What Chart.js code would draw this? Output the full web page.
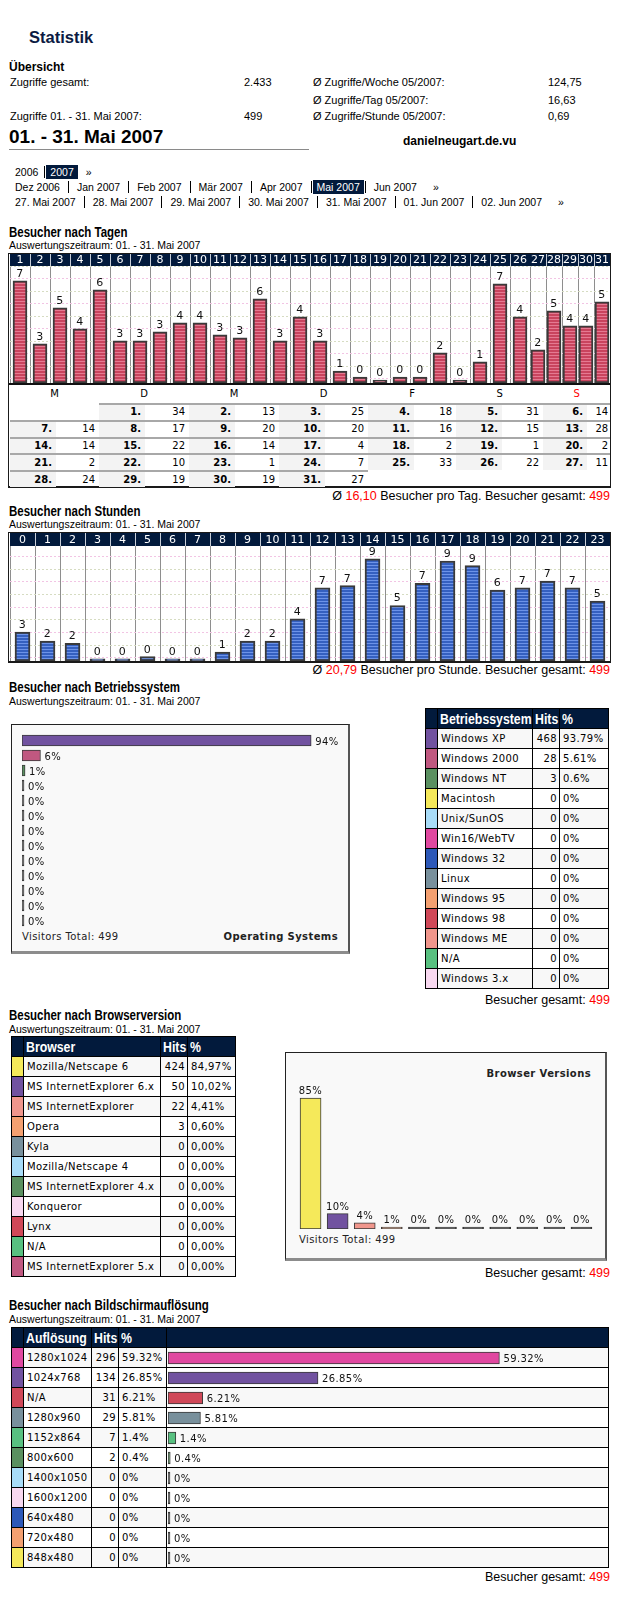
<!DOCTYPE html>
<html lang="de">
<head>
<meta charset="utf-8">
<title>Statistik</title>
<script src="https://cdn.jsdelivr.net/npm/chart.js@4.4.1/dist/chart.umd.min.js"></script>
<style>
body{margin:0;background:#fff;}
#page{position:relative;width:624px;height:1600px;font-family:"Liberation Sans",Arial,sans-serif;color:#000;overflow:hidden;}
.a{position:absolute;white-space:nowrap;}
.t{font-size:11px;line-height:13px;}
.sec{font-weight:bold;font-size:14px;line-height:14px;transform:scaleX(.82);transform-origin:0 50%;}
.sub{font-size:10.5px;line-height:12px;}
.foot{font-size:12.5px;line-height:14px;right:14px;}
.red{color:#f00;}
.nav{font-size:10.5px;line-height:13px;}
.nav .sep{display:inline-block;width:1px;height:12px;background:#000;vertical-align:-2px;margin:0 8px;}
.nav .on{background:#021a3c;color:#fff;padding:1px 4px 1px 4px;}
.frame{box-sizing:border-box;border:1px solid #1a1a1a;border-bottom-width:2px;}
.box{box-sizing:border-box;background:#f9f9f9;border:1px solid #222;border-right:2px solid #555;border-bottom:3px solid #8c8c8c;}
.vt{font:10px/12px "DejaVu Sans",Verdana,sans-serif;letter-spacing:.4px;color:#222;}
canvas{position:absolute;display:block;}
.nw{display:inline-block;transform:scaleX(.82);transform-origin:0 50%;}
table.grid{position:absolute;border-collapse:separate;border-spacing:0;table-layout:fixed;border-left:1px solid #000;border-top:1px solid #000;font:10px/12px "DejaVu Sans",Verdana,sans-serif;letter-spacing:.4px;}
table.grid td,table.grid th{box-sizing:border-box;height:20px;border-right:1px solid #000;border-bottom:1px solid #000;padding:0 0 0 3px;white-space:nowrap;overflow:hidden;}
table.grid th{background:#021a3c;color:#fff;text-align:left;font:bold 15px/18px "Liberation Sans",Arial,sans-serif;letter-spacing:0;padding-left:2px;}
table.grid td.n{text-align:right;padding:0 2px 0 0;}
table.grid td.sw{padding:0;}
table.grid tbody tr:nth-child(odd) td{background:#f8f8f8;}
table.grid tbody tr:nth-child(odd) td.sw{background:none;}
#cal{position:absolute;border-collapse:separate;border-spacing:0;table-layout:fixed;font:10px/12px "DejaVu Sans",Verdana,sans-serif;}
#cal td{height:16.8px;padding:0 4px 0 0;text-align:right;box-sizing:border-box;}
#cal tr.wd td{height:18px;text-align:center;padding:0;}
#cal tr.wd td.sun{color:#f00;}
#cal td.dn{font-weight:bold;background:#f3f3f3;border-top:2px solid #a8a8a8;}
#cal td.dv{border-top:2px solid #a8a8a8;}
</style>
</head>
<body>
<div id="page">

<div class="a" style="left:29px;top:29px;font:bold 16.5px/17px 'Liberation Sans',Arial;color:#0b1a42">Statistik</div>
<div class="a" style="left:9px;top:61px;font:bold 12px/12px 'Liberation Sans',Arial">Übersicht</div>
<div class="a t" style="left:10px;top:76px">Zugriffe gesamt:</div>
<div class="a t" style="left:244px;top:76px">2.433</div>
<div class="a t" style="left:313px;top:76px">Ø Zugriffe/Woche 05/2007:</div>
<div class="a t" style="left:548px;top:76px">124,75</div>
<div class="a t" style="left:313px;top:93.5px">Ø Zugriffe/Tag 05/2007:</div>
<div class="a t" style="left:548px;top:93.5px">16,63</div>
<div class="a t" style="left:10px;top:110px">Zugriffe 01. - 31. Mai 2007:</div>
<div class="a t" style="left:244px;top:110px">499</div>
<div class="a t" style="left:313px;top:110px">Ø Zugriffe/Stunde 05/2007:</div>
<div class="a t" style="left:548px;top:110px">0,69</div>
<div class="a" style="left:9px;top:127px;font:bold 19px/20px 'Liberation Sans',Arial">01. - 31. Mai 2007</div>
<div class="a" style="left:9px;top:149px;width:300px;height:1px;background:#8a8a8a"></div>
<div class="a" style="left:403px;top:135px;font:bold 12px/13px 'Liberation Sans',Arial">danielneugart.de.vu</div>

<div class="a nav" style="left:15px;top:166px">2006<i class="sep" style="margin:0 1px 0 6px"></i><span class="on">2007</span><span style="margin-left:8px">»</span></div>
<div class="a nav" style="left:15px;top:181px">Dez 2006<i class="sep"></i>Jan 2007<i class="sep"></i>Feb 2007<i class="sep"></i>Mär 2007<i class="sep"></i>Apr 2007<i class="sep" style="margin-right:1px"></i><span class="on">Mai 2007</span><i class="sep" style="margin-left:1px"></i>Jun 2007<span style="margin-left:16px">»</span></div>
<div class="a nav" style="left:15px;top:196px">27. Mai 2007<i class="sep"></i>28. Mai 2007<i class="sep"></i>29. Mai 2007<i class="sep"></i>30. Mai 2007<i class="sep"></i>31. Mai 2007<i class="sep"></i>01. Jun 2007<i class="sep"></i>02. Jun 2007<span style="margin-left:16px">»</span></div>

<!-- Tage -->
<div class="a sec" style="left:9px;top:225px">Besucher nach Tagen</div>
<div class="a sub" style="left:9px;top:239px">Auswertungszeitraum: 01. - 31. Mai 2007</div>
<div class="a frame" style="left:8px;top:253px;width:603px;height:235px"></div>
<canvas id="dayA" width="520" height="129" style="left:10px;top:254px"></canvas>
<canvas id="dayB" width="80" height="129" style="left:530px;top:254px"></canvas>
<div class="a" style="left:9px;top:383px;width:601px;height:2px;background:#111"></div>
<table id="cal" style="left:10px;top:385px;width:600px"></table>
<div class="a foot" style="top:489px">Ø <span class="red">16,10</span> Besucher pro Tag. Besucher gesamt: <span class="red">499</span></div>

<!-- Stunden -->
<div class="a sec" style="left:9px;top:504px">Besucher nach Stunden</div>
<div class="a sub" style="left:9px;top:518px">Auswertungszeitraum: 01. - 31. Mai 2007</div>
<div class="a frame" style="left:8px;top:532px;width:603px;height:131px"></div>
<canvas id="hours" width="600" height="128" style="left:10px;top:533px"></canvas>
<div class="a foot" style="top:663px">Ø <span class="red">20,79</span> Besucher pro Stunde. Besucher gesamt: <span class="red">499</span></div>

<!-- Betriebssystem -->
<div class="a sec" style="left:9px;top:680px">Besucher nach Betriebssystem</div>
<div class="a sub" style="left:9px;top:695px">Auswertungszeitraum: 01. - 31. Mai 2007</div>
<div class="a box" style="left:11px;top:724px;width:339px;height:230px"></div>
<canvas id="os" width="323" height="195" style="left:22px;top:733px"></canvas>
<div class="a vt" style="left:22px;top:931px">Visitors Total: 499</div>
<div class="a vt" style="right:286px;top:931px;font-weight:bold">Operating Systems</div>
<table id="osTable" class="grid" style="left:425px;top:708px;width:183px"></table>
<div class="a foot" style="top:993px">Besucher gesamt: <span class="red">499</span></div>

<!-- Browser -->
<div class="a sec" style="left:9px;top:1008px">Besucher nach Browserversion</div>
<div class="a sub" style="left:9px;top:1023px">Auswertungszeitraum: 01. - 31. Mai 2007</div>
<table id="brTable" class="grid" style="left:11px;top:1036px;width:224px"></table>
<div class="a box" style="left:285px;top:1052px;width:322px;height:209px"></div>
<canvas id="browser" width="298" height="149" style="left:297px;top:1080px"></canvas>
<div class="a vt" style="right:33px;top:1068px;font-weight:bold">Browser Versions</div>
<div class="a vt" style="left:299px;top:1234px">Visitors Total: 499</div>
<div class="a foot" style="top:1266px">Besucher gesamt: <span class="red">499</span></div>

<!-- Aufloesung -->
<div class="a sec" style="left:9px;top:1298px">Besucher nach Bildschirmauflösung</div>
<div class="a sub" style="left:9px;top:1313px">Auswertungszeitraum: 01. - 31. Mai 2007</div>
<table id="resTable" class="grid" style="left:11px;top:1327px;width:597px"></table>
<canvas id="res" width="438" height="220" style="left:168px;top:1348px"></canvas>
<div class="a foot" style="top:1570px">Besucher gesamt: <span class="red">499</span></div>

</div>
<script>
const NAVY = '#021a3c';
const EDGE = '#3a3a3a';

// Besucher nach Tagen (Mai 2007)
const dayLabels = ['1','2','3','4','5','6','7','8','9','10','11','12','13','14','15','16','17','18','19','20','21','22','23','24','25','26','27','28','29','30','31'];
const dayVisitors = [34,13,25,18,31,14,14,17,20,20,16,15,28,14,22,14,4,2,1,2,2,10,1,7,33,22,11,24,19,19,27];
const dayTags = [7,3,5,4,6,3,3,3,4,4,3,3,6,3,4,3,1,0,0,0,0,2,0,1,7,4,2,5,4,4,5];
const weekDays = ['M','D','M','D','F','S','S'];
const firstWeekday = 1; // 1. Mai 2007 ist ein Dienstag

// Besucher nach Stunden
const hourLabels = ['0','1','2','3','4','5','6','7','8','9','10','11','12','13','14','15','16','17','18','19','20','21','22','23'];
const hourVisitors = [13,9,8,1,1,2,1,1,4,9,9,19,33,34,46,25,35,45,43,32,33,36,33,27];
const hourTags = [3,2,2,0,0,0,0,0,1,2,2,4,7,7,9,5,7,9,9,6,7,7,7,5];

// Betriebssysteme
const osNames = ['Windows XP','Windows 2000','Windows NT','Macintosh','Unix/SunOS','Win16/WebTV','Windows 32','Linux','Windows 95','Windows 98','Windows ME','N/A','Windows 3.x'];
const osHits = [468,28,3,0,0,0,0,0,0,0,0,0,0];
const osShare = ['93.79%','5.61%','0.6%','0%','0%','0%','0%','0%','0%','0%','0%','0%','0%'];
const osChartPct = [94,6,1,0,0,0,0,0,0,0,0,0,0];
const osColors = ['#7152a0','#c05880','#5a9060','#f5e95a','#a8dcf8','#e048a0','#2c58b8','#78909c','#f4a070','#d04858','#f0968c','#58c080','#f8d8f0'];

// Browser
const browserNames = ['Mozilla/Netscape 6','MS InternetExplorer 6.x','MS InternetExplorer','Opera','Kyla','Mozilla/Netscape 4','MS InternetExplorer 4.x','Konqueror','Lynx','N/A','MS InternetExplorer 5.x'];
const browserHits = [424,50,22,3,0,0,0,0,0,0,0];
const browserShare = ['84,97%','10,02%','4,41%','0,60%','0,00%','0,00%','0,00%','0,00%','0,00%','0,00%','0,00%'];
const browserChartPct = [85,10,4,1,0,0,0,0,0,0,0];
const browserColors = ['#f5e95a','#7152a0','#f0968c','#f4a070','#78909c','#a8dcf8','#5a9060','#f8d8f0','#d04858','#58c080','#c05880'];

// Bildschirmaufloesung
const resNames = ['1280x1024','1024x768','N/A','1280x960','1152x864','800x600','1400x1050','1600x1200','640x480','720x480','848x480'];
const resHits = [296,134,31,29,7,2,0,0,0,0,0];
const resShare = ['59.32%','26.85%','6.21%','5.81%','1.4%','0.4%','0%','0%','0%','0%','0%'];
const resPct = [59.32,26.85,6.21,5.81,1.4,0.4,0,0,0,0,0];
const resColors = ['#e048a0','#7152a0','#d04858','#78909c','#58c080','#5a9060','#a8dcf8','#f8d8f0','#2c58b8','#f4a070','#f5e95a'];

function stripes(base, light){
    const c = document.createElement('canvas');
    c.width = 4; c.height = 3;
    const g = c.getContext('2d');
    g.fillStyle = base; g.fillRect(0, 0, 4, 3);
    g.fillStyle = light; g.fillRect(0, 2, 4, 1);
    return g.createPattern(c, 'repeat');
}

// navy header row behind the top axis
const headerBand = {
    id: 'headerBand',
    beforeDraw(chart){
        const ctx = chart.ctx, top = chart.chartArea.top, xs = chart.scales.x;
        const n = xs.ticks.length, w = xs.width / n;
        ctx.save();
        ctx.fillStyle = NAVY;
        ctx.fillRect(0, 0, chart.width, top);
        ctx.fillStyle = '#c8ced8';
        for(let i = 1; i < n; i++){
            ctx.fillRect(Math.round(xs.left + i * w), 0, 1, top);
        }
        ctx.restore();
    }
};

function valueTags(texts, horizontal, size){
    return {
        id: 'valueTags',
        afterDatasetsDraw(chart){
            const ctx = chart.ctx;
            ctx.save();
            ctx.font = size + 'px "DejaVu Sans"';
            if('letterSpacing' in ctx) ctx.letterSpacing = '0.4px';
            ctx.fillStyle = '#111';
            chart.getDatasetMeta(0).data.forEach((bar, i) => {
                if(horizontal){
                    ctx.textAlign = 'left'; ctx.textBaseline = 'middle';
                    ctx.fillText(texts[i], bar.x + 4, bar.y + 1.5);
                } else {
                    ctx.textAlign = 'center'; ctx.textBaseline = 'alphabetic';
                    ctx.fillText(texts[i], bar.x, bar.y - 4);
                }
            });
            ctx.restore();
        }
    };
}

function columnChart(id, labels, values, tags, fill, opt){
    return new Chart(document.getElementById(id), {
        type: 'bar',
        data: {
            labels: labels,
            datasets: [{
                data: values,
                backgroundColor: fill,
                borderColor: EDGE,
                borderWidth: 2,
                borderSkipped: false,
                barThickness: opt.barW
            }]
        },
        options: {
            responsive: false,
            animation: false,
            events: [],
            layout: {padding: 0},
            plugins: {legend: {display: false}, tooltip: {enabled: false}},
            scales: {
                x: {
                    position: 'top',
                    offset: true,
                    grid: {offset: true, color: '#8e8e8e', drawTicks: false},
                    border: {display: false},
                    ticks: {color: '#fff', font: {family: 'DejaVu Sans', size: 11, lineHeight: 1}, padding: 0, autoSkip: false, maxRotation: 0},
                    afterFit: s => { s.height = opt.head; }
                },
                y: {
                    min: 0,
                    max: opt.max,
                    afterBuildTicks: s => {
                        const t = [];
                        for(let v = opt.gridFrom; v < opt.max; v += opt.gridStep) t.push({value: v});
                        s.ticks = t;
                    },
                    ticks: {display: false},
                    grid: {drawTicks: false, color: c => c.index % 2 ? '#d6dcc2' : '#f2c4e4'},
                    border: {display: false, dash: [2, 2]}
                }
            }
        },
        plugins: [headerBand, valueTags(tags, false, 11)]
    });
}

function flatBars(id, labels, values, colors, tags, opt){
    return new Chart(document.getElementById(id), {
        type: 'bar',
        data: {
            labels: labels,
            datasets: [{
                data: values,
                // empty entries only show as a dark stub
                backgroundColor: colors.map((c, i) => values[i] > 0 ? c : EDGE),
                borderColor: EDGE,
                borderWidth: 1,
                borderSkipped: false,
                barThickness: opt.barW,
                minBarLength: 2
            }]
        },
        options: {
            indexAxis: opt.horizontal ? 'y' : 'x',
            responsive: false,
            animation: false,
            events: [],
            layout: {padding: 0},
            plugins: {legend: {display: false}, tooltip: {enabled: false}},
            scales: {
                x: {display: false, min: 0, max: opt.horizontal ? opt.max : undefined},
                y: {display: false, min: opt.horizontal ? undefined : 0, max: opt.horizontal ? undefined : opt.max}
            }
        },
        plugins: [valueTags(tags, opt.horizontal, 10)]
    });
}

function buildCalendar(){
    const groupW = [89,90,90,89,88,87,67];
    let html = '<colgroup>';
    groupW.forEach((w, i) => {
        const nw = i == 6 ? 44 : 46;
        html += '<col style="width:' + nw + 'px"><col style="width:' + (w - nw) + 'px">';
    });
    html += '</colgroup><tr class="wd">';
    weekDays.forEach((d, i) => { html += '<td colspan="2"' + (i == 6 ? ' class="sun"' : '') + '>' + d + '</td>'; });
    html += '</tr>';
    const cells = [];
    for(let i = 0; i < firstWeekday; i++) cells.push(null);
    dayVisitors.forEach((v, i) => cells.push([i + 1, v]));
    while(cells.length % 7) cells.push(null);
    for(let r = 0; r < cells.length / 7; r++){
        html += '<tr>';
        for(let c = 0; c < 7; c++){
            const cell = cells[r * 7 + c];
            html += cell ? '<td class="dn">' + cell[0] + '.</td><td class="dv"' + (c == 6 ? ' style="padding-right:2px"' : '') + '>' + cell[1] + '</td>' : '<td></td><td></td>';
        }
        html += '</tr>';
    }
    document.getElementById('cal').innerHTML = html;
}

function buildTable(id, heads, widths, names, hits, share, colors){
    let html = '<colgroup>' + widths.map(w => '<col style="width:' + w + 'px">').join('') + '</colgroup><thead><tr><th></th>';
    heads.forEach(h => { html += '<th>' + (h ? '<span class="nw">' + h + '</span>' : '') + '</th>'; });
    html += '</tr></thead><tbody>';
    names.forEach((n, i) => {
        html += '<tr><td class="sw" style="background:' + colors[i] + '"></td><td>' + n + '</td><td class="n">' + hits[i] + '</td><td>' + share[i] + '</td>' + (heads.length > 3 ? '<td></td>' : '') + '</tr>';
    });
    html += '</tbody>';
    document.getElementById(id).innerHTML = html;
}

buildCalendar();
buildTable('osTable', ['Betriebssystem', 'Hits', '%'], [12,95,27,49], osNames, osHits, osShare, osColors);
buildTable('brTable', ['Browser', 'Hits', '%'], [12,137,27,48], browserNames, browserHits, browserShare, browserColors);
buildTable('resTable', ['Auflösung', 'Hits', '%', ''], [12,68,27,48,442], resNames, resHits, resShare, resColors);

const redBars = stripes('#c9445e', '#e57a92');
const blueBars = stripes('#3560c0', '#6d93e8');

columnChart('dayA', dayLabels.slice(0, 26), dayVisitors.slice(0, 26), dayTags.slice(0, 26), redBars,
    {barW: 14, head: 12, max: 38.9, gridFrom: 1.43, gridStep: 4.15});
columnChart('dayB', dayLabels.slice(26), dayVisitors.slice(26), dayTags.slice(26), redBars,
    {barW: 14, head: 12, max: 38.9, gridFrom: 1.43, gridStep: 4.15});
columnChart('hours', hourLabels, hourVisitors, hourTags, blueBars,
    {barW: 15, head: 13, max: 51.8, gridFrom: 1.5, gridStep: 5.7});

flatBars('os', osNames, osChartPct, osColors, osChartPct.map(v => v + '%'), {horizontal: true, barW: 11, max: 105});
flatBars('browser', browserNames, browserChartPct, browserColors, browserChartPct.map(v => v + '%'), {horizontal: false, barW: 21, max: 96.7});
flatBars('res', resNames, resPct, resColors, resShare, {horizontal: true, barW: 12, max: 78.4});
</script>
</body>
</html>
